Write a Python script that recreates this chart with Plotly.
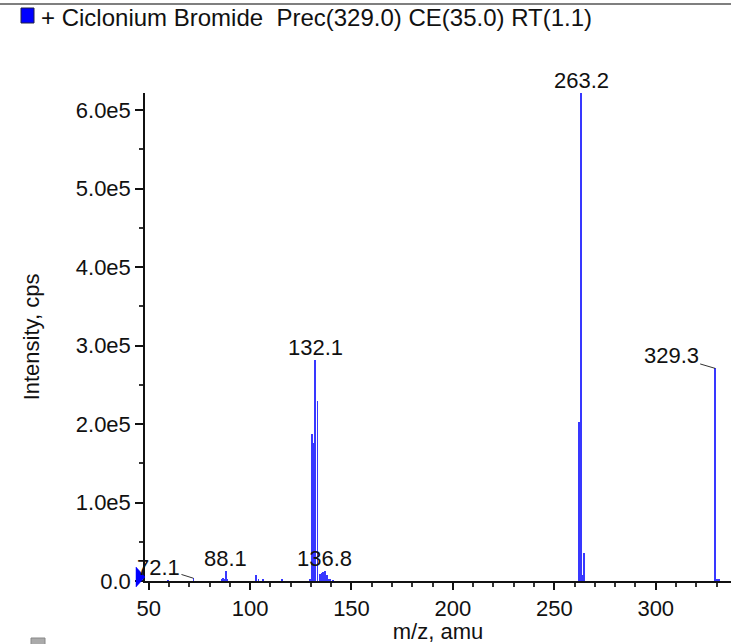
import plotly.graph_objects as go

# ---- data ----
mz = [59.7, 72.1, 86.3, 86.8, 87.4, 88.1, 88.7, 102.8, 104.2, 106.5, 115.6,
      129.5, 130.4, 131.4, 132.1, 133.3, 134.5, 135.3, 136.1, 136.8, 137.9,
      138.9, 139.7, 140.7, 262.2, 263.2, 263.8, 264.8, 329.3, 330.2, 331.0]
intensity = [500, 3500, 2000, 4000, 3000, 13000, 2000, 8000, 2500, 1500, 1500,
             3000, 187000, 176000, 282000, 229000, 9000, 10000, 11000, 13000, 8000,
             3000, 2000, 1000, 203000, 622000, 8000, 36000, 271000, 2000, 2500]

labels_mz = [72.1, 88.1, 136.8, 132.1, 263.2, 329.3]
labels_int = [3500, 13000, 13000, 282000, 622000, 271000]
label_dx = [-35, 0, 0, 0, 0, -44]
label_dy = [-11, -12, -12, -12, -13, -13]

x_ticks = [50, 100, 150, 200, 250, 300]
y_ticks = [0, 100000, 200000, 300000, 400000, 500000, 600000]
y_tick_text = ["0.0", "1.0e5", "2.0e5", "3.0e5", "4.0e5", "5.0e5", "6.0e5"]

x_range = [48.2, 337.1]
y_range = [0, 622000]

legend_text = "+ Ciclonium Bromide  Prec(329.0) CE(35.0) RT(1.1)"

FONT = "Liberation Sans, Arial, Helvetica, sans-serif"
TXT = "#111111"

# plot area in pixels (for decorations outside the axes)
L, R, T, B = 145, 731, 93, 581
W, H = R - L, B - T


def px(x):
    return (x - L) / W


def py(y):
    return (B - y) / H


fig = go.Figure()
fig.add_trace(go.Bar(
    x=mz, y=intensity, width=0.38,
    marker=dict(color="#3838ff", line=dict(width=0)),
    showlegend=False, hoverinfo="x+y",
))

# precursor indicator: triangle pointing at the start of the baseline
fig.add_shape(type="path", xref="paper", yref="paper",
              path=(f"M {px(136)},{py(567)} L {px(145)},{py(577)} "
                    f"L {px(136)},{py(587)} Z"),
              fillcolor="#0000ff", line=dict(color="#0000ff", width=0.5),
              layer="above")

for x, y, dx, dy in zip(labels_mz, labels_int, label_dx, label_dy):
    if dx != 0:
        fig.add_annotation(
            x=x, y=y, text=f"{x:.1f}", showarrow=True,
            arrowhead=0, arrowwidth=1, arrowcolor="#333333",
            ax=dx, ay=dy, font=dict(family=FONT, size=22, color=TXT),
        )
    else:
        fig.add_annotation(
            x=x, y=y, text=f"{x:.1f}", showarrow=False,
            yanchor="middle", yshift=-dy,
            font=dict(family=FONT, size=22, color=TXT),
        )

# legend entry (top)
fig.add_shape(type="rect", xref="paper", yref="paper",
              x0=px(21), x1=px(34), y0=py(23), y1=py(8),
              fillcolor="#0000ff", line=dict(color="#222244", width=1))
fig.add_annotation(xref="paper", yref="paper", x=px(39), y=py(18),
                   xanchor="left", yanchor="middle", showarrow=False,
                   text=legend_text, font=dict(family=FONT, size=24, color=TXT))
# top border line
fig.add_shape(type="line", xref="paper", yref="paper",
              x0=px(0), x1=1, y0=py(4), y1=py(4),
              line=dict(color="#555555", width=1.5))
# partial next legend square at bottom
fig.add_shape(type="rect", xref="paper", yref="paper",
              x0=px(31), x1=px(45), y0=py(650), y1=py(638),
              fillcolor="#aaaaaa", line=dict(color="#888888", width=1))

fig.update_layout(
    width=731, height=644,
    margin=dict(l=L, r=731 - R, t=T, b=644 - B),
    paper_bgcolor="white", plot_bgcolor="white",
    bargap=0, showlegend=False,
    font=dict(family=FONT, size=22, color=TXT),
)
fig.update_xaxes(
    range=x_range, tickvals=x_ticks, ticks="outside", ticklen=7, tickwidth=1.5,
    tickcolor=TXT, showline=True, linecolor=TXT, linewidth=1.5,
    showgrid=False, zeroline=False,
    minor=dict(dtick=10, tick0=0, ticks="outside", ticklen=4, tickcolor="#333333", showgrid=False),
    tickfont=dict(family=FONT, size=22, color=TXT),
    title=dict(text="m/z, amu", font=dict(family=FONT, size=22, color=TXT), standoff=2),
)
fig.update_yaxes(
    range=y_range, tickvals=y_ticks, ticktext=y_tick_text, ticks="outside", ticklen=8,
    tickwidth=1.5, tickcolor=TXT, showline=True, linecolor=TXT, linewidth=1.5,
    showgrid=False, zeroline=False,
    minor=dict(dtick=50000, tick0=0, ticks="outside", ticklen=4, tickcolor="#333333", showgrid=False),
    tickfont=dict(family=FONT, size=22, color=TXT),
    title=dict(text="Intensity, cps", font=dict(family=FONT, size=22, color=TXT), standoff=30),
)

fig.write_html("out.html", config={"displayModeBar": False},
               post_script="document.body.style.margin='0';")
